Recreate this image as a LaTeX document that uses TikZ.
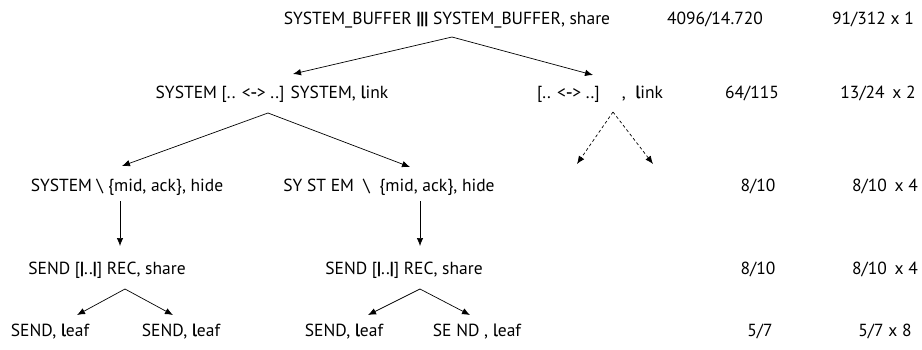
\documentclass[tikz,border=0pt]{standalone}
\usepackage{fontspec}
\setmainfont{PT Sans}
\usetikzlibrary{arrows.meta}
% slightly heavier glyphs for the operator marks
\newcommand{\hvy}[1]{{\addfontfeature{FakeBold=1.5}#1}}
\begin{document}
\begin{tikzpicture}[x=1pt, y=-1pt,
  every node/.style={inner sep=0pt, anchor=base, font=\fontsize{17.5}{20}\selectfont},
  tree/.style={-{Latex[length=8pt, width=6.5pt]}, line width=0.7pt},
  open/.style={tree, dash pattern=on 3pt off 2.5pt}]
\useasboundingbox (0,0) rectangle (922,349);

% the terms, one row per level
\node (root) at (447,24) {SYSTEM\_BUFFER \textbf{|||} SYSTEM\_BUFFER, share};

\node (L) at (272,98) {SYSTEM [.. <\hvy{-}> ..] SYSTEM, \hvy{l}ink};
\node (R) at (600,98) {[.. <\hvy{-}> ..]\quad\ , \ \hvy{l}ink};

\node (LL) at (127,191) {SYSTEM \textbackslash\ \{mid, ack\}, hide};
\node (LR) at (389,191) {SY ST EM \ \textbackslash\ \ \{mid, ack\}, hide};

\node (LLs) at (107,274) {SEND [\textbf{|}..\textbf{|}] REC, share};
\node (LRs) at (404,274) {SEND [\textbf{|}..\textbf{|}] REC, share};

\node (LLa) at (50,336) {SEND, \hvy{l}eaf};
\node (LLb) at (181,336) {SEND, \hvy{l}eaf};
\node (LRa) at (344,336) {SEND, \hvy{l}eaf};
\node (LRb) at (477,336) {SE ND , \hvy{l}eaf};

% counts on the right
\node (n0) at (715,24) {4096/14.720};
\node (m0) at (873,24) {91/312 x 1};
\node (n1) at (752,98) {64/115};
\node (m1) at (878,98) {13/24 \,x 2};
\node (n2) at (758,191) {8/10};
\node (m2) at (885,191) {8/10 \,x 4};
\node (n3) at (758,274) {8/10};
\node (m3) at (885,274) {8/10 \,x 4};
\node (n4) at (760,336) {5/7};
\node (m4) at (885,336) {5/7 x 8};

% branch points and arrow ends
\coordinate (rootB) at (452,37);
\coordinate (LT) at (293,74);
\coordinate (RT) at (593,75);

\coordinate (LB) at (268,113);
\coordinate (LLT) at (122,166);
\coordinate (LRT) at (410,167);

\coordinate (RB) at (613,112);
\coordinate (RLT) at (577,164);
\coordinate (RRT) at (653,164);

\coordinate (LLB) at (120,201);
\coordinate (LLsT) at (120,246);
\coordinate (LRB) at (420,201);
\coordinate (LRsT) at (420,246);

\coordinate (LLsB) at (125,289);
\coordinate (LLaT) at (77,315);
\coordinate (LLbT) at (173,315);
\coordinate (LRsB) at (420,289);
\coordinate (LRaT) at (368,315);
\coordinate (LRbT) at (470,315);

\draw[tree] (rootB) -- (LT);
\draw[tree] (rootB) -- (RT);
\draw[tree] (LB) -- (LLT);
\draw[tree] (LB) -- (LRT);
\draw[open] (RB) -- (RLT);
\draw[open] (RB) -- (RRT);
\draw[tree] (LLB) -- (LLsT);
\draw[tree] (LRB) -- (LRsT);
\draw[tree] (LLsB) -- (LLaT);
\draw[tree] (LLsB) -- (LLbT);
\draw[tree] (LRsB) -- (LRaT);
\draw[tree] (LRsB) -- (LRbT);

\end{tikzpicture}
\end{document}
